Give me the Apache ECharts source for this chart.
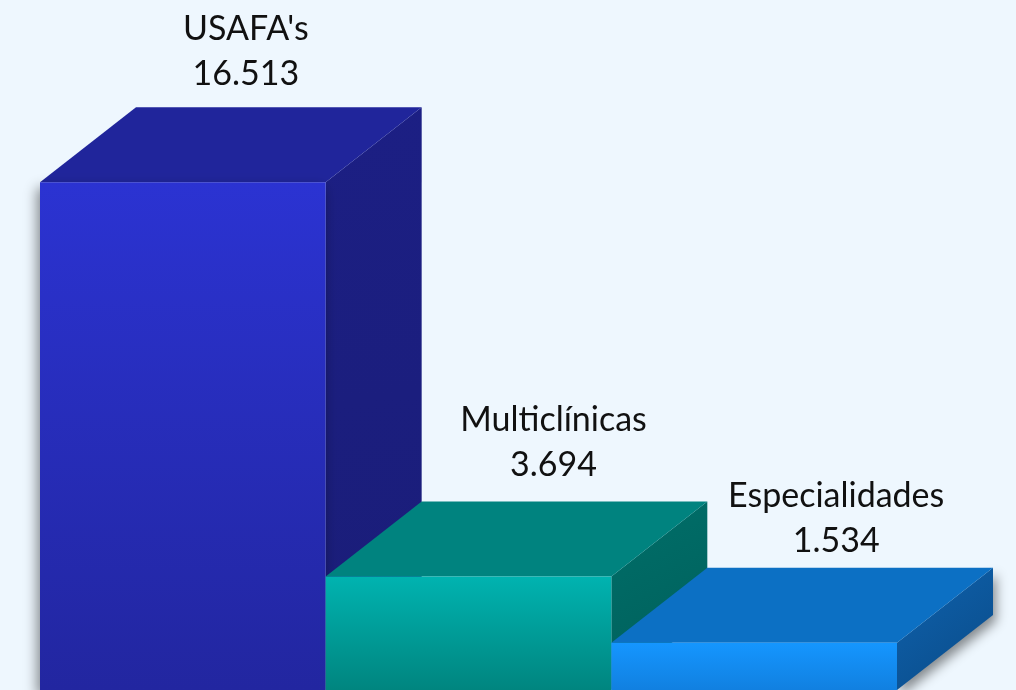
<!DOCTYPE html>
<html>
<head>
<meta charset="utf-8">
<script src="https://cdn.jsdelivr.net/npm/echarts@6/dist/echarts.min.js"></script>
<style>
  html, body { margin: 0; padding: 0; background: #eef7fe; }
  #main { width: 1016px; height: 690px; }
</style>
</head>
<body>
<div id="main"></div>
<script>
// dados
var categories = ["USAFA's", "Multiclínicas", "Especialidades"];
var values = [16513, 3694, 1534];

// estilo das barras (frente topo/base, face superior, lateral topo/base)
var palette = [
  { front: ['#2b33d2', '#2226a0'], top: '#20259b', side: ['#1c1f84', '#1a1d78'] },
  { front: ['#00b3b0', '#00857f'], top: '#00837f', side: ['#006e69', '#005f5a'] },
  { front: ['#1596ff', '#1180e0'], top: '#0c70c4', side: ['#0f62ad', '#0a4b88'] }
];
var DX = 96, DY = 75;           // profundidade 3D
var labelShift = [63, 85, 82];  // deslocamento horizontal do rótulo
var labelGap = [11, 14, 4];     // distância do rótulo à aresta de trás

function fmt(v) {
  return String(v).replace(/\B(?=(\d{3})+(?!\d))/g, '.');
}

function renderItem(params, api) {
  var idx = api.value(0);
  var base = api.coord([idx, 0]);
  var top = api.coord([idx, api.value(1)]);
  var w = api.size([1, 0])[0];
  var x0 = base[0] - w / 2, x1 = base[0] + w / 2;
  var yT = top[1], yB = base[1];
  var c = palette[idx];
  var last = params.dataIndex === values.length - 1;
  var first = params.dataIndex === 0;
  var shadow = { shadowBlur: 12, shadowOffsetY: 6, shadowOffsetX: 3, shadowColor: 'rgba(0,0,0,0.45)' };
  var sideStyle = { fill: new echarts.graphic.LinearGradient(0, 0, 1, 1, [
    { offset: 0, color: c.side[0] }, { offset: 1, color: c.side[1] }]) };
  var frontStyle = { fill: new echarts.graphic.LinearGradient(0, 0, 0, 1, [
    { offset: 0, color: c.front[0] }, { offset: 1, color: c.front[1] }]) };
  if (last) Object.assign(sideStyle, shadow);
  if (first) Object.assign(frontStyle, shadow, { shadowOffsetX: -3 });
  return {
    type: 'group',
    children: [
      { type: 'polygon', shape: { points: [[x1, yT], [x1 + DX, yT - DY], [x1 + DX, yB - DY], [x1, yB]] }, style: sideStyle },
      { type: 'polygon', shape: { points: [[x0, yT], [x1, yT], [x1 + DX, yT - DY], [x0 + DX, yT - DY]] }, style: { fill: c.top } },
      { type: 'rect', shape: { x: x0, y: yT, width: w, height: yB - yT }, style: frontStyle },
      {
        type: 'text',
        x: base[0] + labelShift[idx],
        y: yT - DY - labelGap[idx],
        style: {
          text: categories[idx] + '\n' + fmt(api.value(1)),
          fill: '#111',
          font: '34px Lato',
          lineHeight: 45,
          align: 'center',
          verticalAlign: 'bottom'
        }
      }
    ]
  };
}

var chart = echarts.init(document.getElementById('main'));
chart.setOption({
  backgroundColor: '#eef7fe',
  animation: false,
  grid: { left: 40, width: 857, top: 75, height: 616 },
  xAxis: { type: 'category', data: categories, show: false },
  yAxis: { type: 'value', min: 0, max: 20000, show: false },
  series: [{
    type: 'custom',
    renderItem: renderItem,
    data: values.map(function (v, i) { return [i, v]; })
  }]
});
</script>
</body>
</html>
